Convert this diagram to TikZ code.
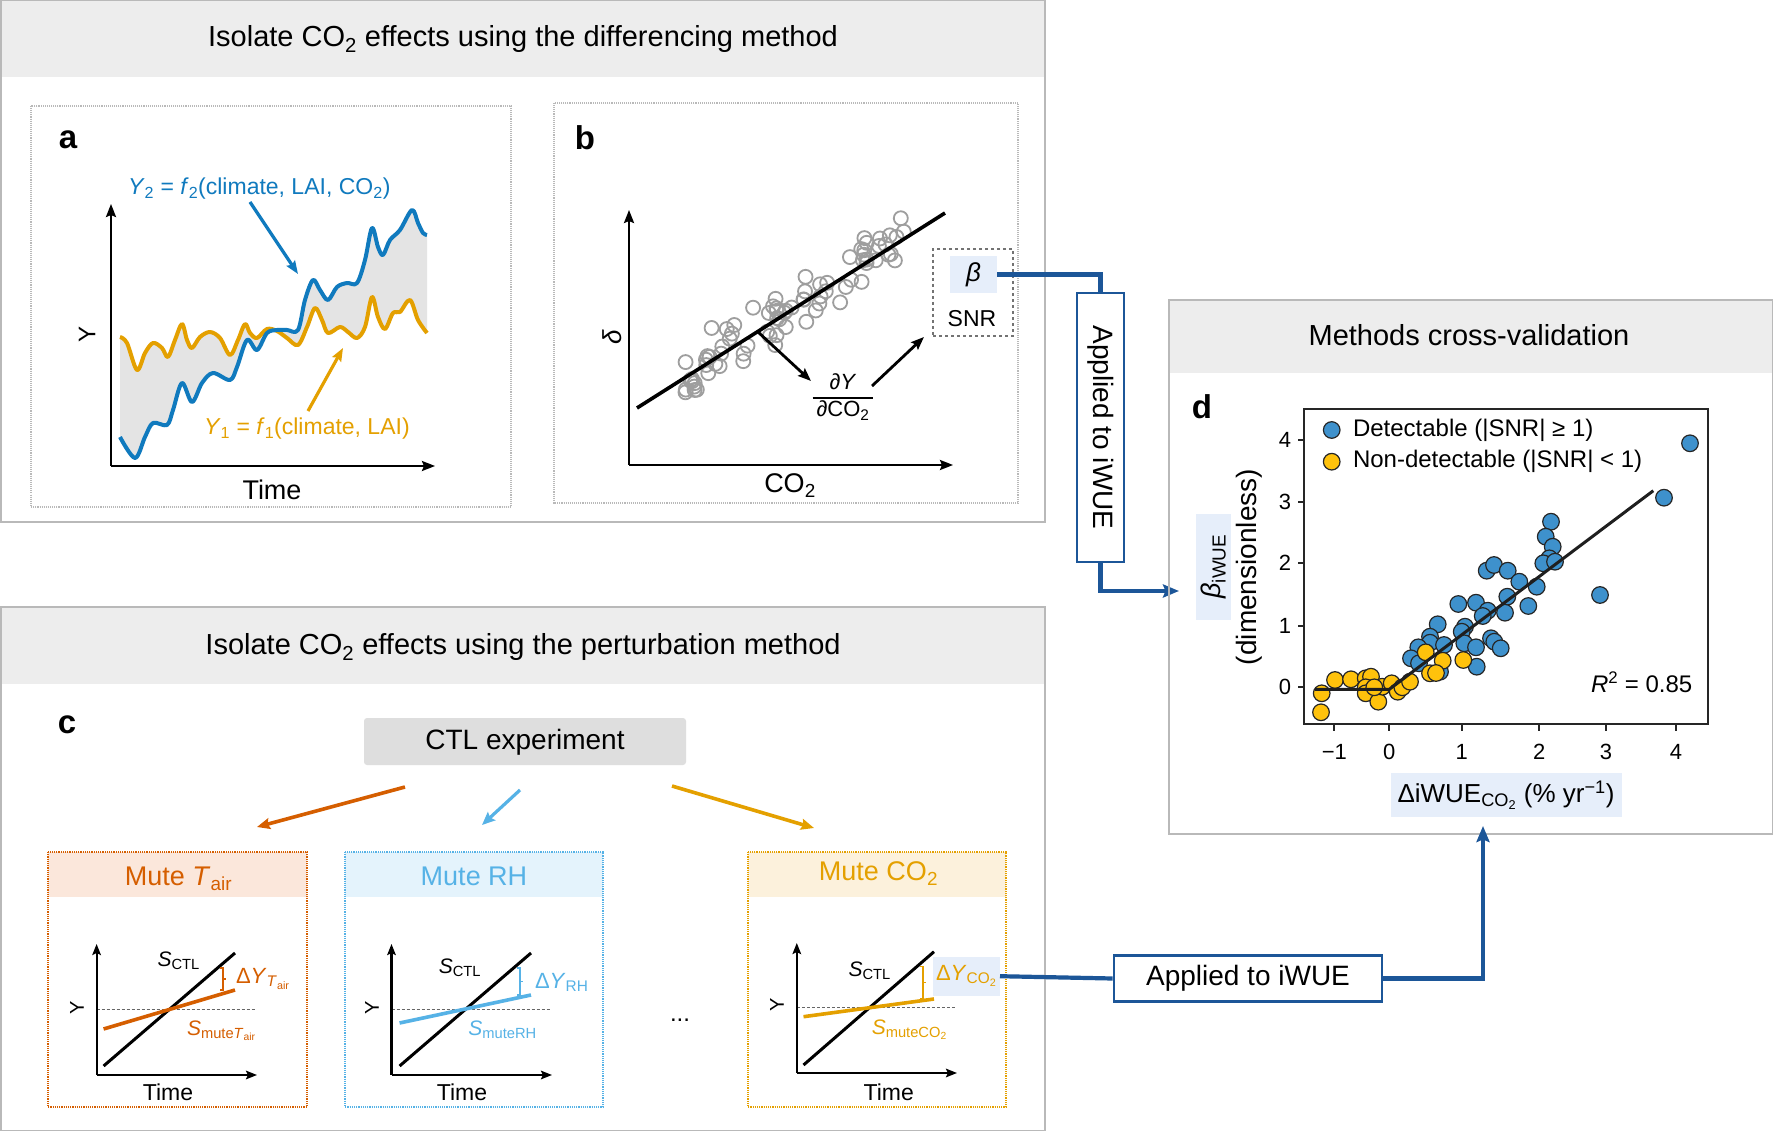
\documentclass[tikz,border=0pt]{standalone}
\usepackage{fontspec}
\setmainfont{Liberation Sans}
\usetikzlibrary{arrows.meta,calc}
\newcommand\fsz[1]{\fontsize{#1}{#1}\selectfont}
\definecolor{cblue}{RGB}{16,122,190}
\definecolor{corange}{RGB}{228,160,0}
\definecolor{ctair}{RGB}{213,94,0}
\definecolor{crh}{RGB}{86,178,230}
\definecolor{cco2}{RGB}{228,160,0}
\definecolor{cdark}{RGB}{28,86,152}
\definecolor{hdr}{RGB}{237,237,237}
\definecolor{framec}{RGB}{185,185,185}
\definecolor{hl}{RGB}{230,238,250}
\definecolor{ptblue}{RGB}{62,145,204}
\definecolor{ptyel}{RGB}{255,194,12}
\definecolor{shadec}{RGB}{228,228,228}
\definecolor{hdrtair}{RGB}{251,231,219}
\definecolor{hdrrh}{RGB}{228,243,252}
\definecolor{hdrco2}{RGB}{252,241,220}
\begin{document}
\begin{tikzpicture}[x=1pt,y=-1pt,
  txt/.style={inner sep=0pt,outer sep=0pt},
  plabel/.style={txt,font=\fsz{33}\bfseries},
  axisline/.style={line width=2.4pt,-{Stealth[length=13pt,width=10pt,inset=2pt]}},
  maxis/.style={line width=2.2pt,-{Stealth[length=11pt,width=8.5pt,inset=2pt]}},
  dotbox/.style={draw=framec,line width=1.1pt,densely dotted},
  conn/.style={draw=cdark,line width=4.2pt},
  conntip/.style={conn,-{Stealth[length=16pt,width=13pt,inset=2.5pt]}},
  applybox/.style={draw=cdark,line width=2.8pt,fill=white,inner sep=0pt,font=\fsz{28}},
  bcirc/.style={draw=black!38,line width=1.8pt},
  ptb/.style={fill=ptblue,draw=black!85,line width=1.2pt},
  pty/.style={fill=ptyel,draw=black!85,line width=1.2pt},
  mdash/.style={draw=black!60,line width=1pt,dash pattern=on 3pt off 2pt},
  ctlarrow/.style={line width=3.6pt,-{Stealth[length=13pt,width=11pt,inset=2pt]}}
]
\useasboundingbox (0,0) rectangle (1773,1131);
\fill[white] (0,0) rectangle (1773,1131);

%================ TOP PANEL =================
\fill[hdr] (0,0) rectangle (1045,77);
\draw[framec,line width=1.5pt] (0.75,0.75) rectangle (1045,522);
\node[txt,font=\fsz{29},anchor=base] (ttop) at (523,46.7) {Isolate CO\textsubscript{2} effects using the differencing method};

% ---- panel a
\draw[dotbox] (31,106) rectangle (511,507);
\node[plabel] (la) at (68,140) {a};
\fill[shadec] plot[smooth,tension=0.55] coordinates {(120,437) (135,458) (145,437) (153,423) (167,425) (173,410) (182,383) (192,402) (202,383) (213,373) (230,380) (237,367) (247,340) (257,350) (267,333) (277,330) (287,330) (298,330) (305,300) (313,280) (320,290) (328,300) (337,287) (347,283) (357,283) (365,260) (372,228) (378,247) (383,255) (390,240) (400,230) (412,210) (418,223) (423,233) (427,235)}
 -- plot[smooth,tension=0.55] coordinates {(427,333) (418,320) (410,300) (400,312) (393,313) (385,329) (378,317) (372,297) (365,327) (357,338) (348,332) (340,327) (328,333) (322,320) (315,308) (307,327) (298,345) (287,338) (277,331) (267,329) (257,338) (250,333) (245,324) (238,340) (230,355) (220,338) (210,332) (200,337) (192,348) (187,340) (182,324) (175,340) (168,357) (162,348) (153,343) (145,353) (137,370) (127,343) (120,337)} -- cycle;
\draw[corange,line width=4pt,line join=round] plot[smooth,tension=0.55] coordinates {(120,337) (127,343) (137,370) (145,353) (153,343) (162,348) (168,357) (175,340) (182,324) (187,340) (192,348) (200,337) (210,332) (220,338) (230,355) (238,340) (245,324) (250,333) (257,338) (267,329) (277,331) (287,338) (298,345) (307,327) (315,308) (322,320) (328,333) (340,327) (348,332) (357,338) (365,327) (372,297) (378,317) (385,329) (393,313) (400,312) (410,300) (418,320) (427,333)};
\draw[cblue,line width=4pt,line join=round] plot[smooth,tension=0.55] coordinates {(120,437) (135,458) (145,437) (153,423) (167,425) (173,410) (182,383) (192,402) (202,383) (213,373) (230,380) (237,367) (247,340) (257,350) (267,333) (277,330) (287,330) (298,330) (305,300) (313,280) (320,290) (328,300) (337,287) (347,283) (357,283) (365,260) (372,228) (378,247) (383,255) (390,240) (400,230) (412,210) (418,223) (423,233) (427,235)};
\coordinate (ao) at (111,466);
\coordinate (ay) at (111,204);
\coordinate (ax) at (435,466);
\draw[axisline] (ao) -- (ay);
\draw[axisline] (ao) -- (ax);
\node[txt,font=\fsz{24},rotate=90] (aY) at (87,334) {Y};
\node[txt,font=\fsz{27}] (aT) at (272,490) {Time};
\node[txt,font=\fsz{23},text=cblue,anchor=base west] (y2lab) at (128,195) {\textit{Y}\textsubscript{2} = \textit{f}\textsubscript{2}(climate, LAI, CO\textsubscript{2})};
\node[txt,font=\fsz{23},text=corange,anchor=base west] (y1lab) at (204,435) {\textit{Y}\textsubscript{1} = \textit{f}\textsubscript{1}(climate, LAI)};
\coordinate (y2s) at (250,202);
\coordinate (y2e) at (298,274);
\coordinate (y1s) at (308,411);
\coordinate (y1e) at (343,348);
\draw[cblue,line width=3.2pt,-{Stealth[length=13pt,width=10pt,inset=2pt]}] (y2s) -- (y2e);
\draw[corange,line width=3.2pt,-{Stealth[length=13pt,width=10pt,inset=2pt]}] (y1s) -- (y1e);

% ---- panel b
\draw[dotbox] (554,103) rectangle (1018,503);
\node[plabel] (lb) at (585,138) {b};
\coordinate (bo) at (629,465);
\coordinate (by) at (629,210);
\coordinate (bx) at (953,465);
\draw[axisline] (bo) -- (by);
\draw[axisline] (bo) -- (bx);
\node[txt,font=\fsz{26}\itshape,rotate=90] (bdelta) at (612,337) {δ};
\node[txt,font=\fsz{27},anchor=base] (bco2) at (790,493) {CO\textsubscript{2}};
\pgfmathsetseed{23}
\foreach \i in {1,...,78}{
  \pgfmathsetmacro\xx{683+222*rnd}
  \pgfmathsetmacro\yy{408-0.633*(\xx-637)+30*(rnd+rnd+rnd-1.5)}
  \draw[bcirc] (\xx,\yy) circle[radius=7];
}
\coordinate (rl1) at (637,408);
\coordinate (rl2) at (945,213);
\draw[line width=3.6pt] (rl1) -- (rl2);
\node[txt,font=\fsz{22}] (frac) at (843,398) {\setlength{\arrayrulewidth}{2pt}\setlength{\tabcolsep}{4pt}\renewcommand{\arraystretch}{1.15}\begin{tabular}{c}∂\textit{Y}\\\hline ∂CO\textsubscript{2}\end{tabular}};
\coordinate (bar1) at (758,332);
\coordinate (bar2) at (811,381);
\coordinate (bar3) at (872,386);
\coordinate (bar4) at (924,337);
\draw[line width=2.8pt,-{Stealth[length=13pt,width=10pt,inset=2pt]}] (bar1) -- (bar2);
\draw[line width=2.8pt,-{Stealth[length=13pt,width=10pt,inset=2pt]}] (bar3) -- (bar4);
\node[draw=black!55,line width=1.1pt,dashed,minimum width=80pt,minimum height=87pt,inner sep=0pt] (snrbox) at (973,292.5) {};
\node[txt,fill=hl,minimum width=47pt,minimum height=37pt,font=\fsz{26}\itshape] (beta) at (973.5,274.5) {β};
\node[txt,font=\fsz{23}] (snr) at (972,319) {SNR};

% connector b -> d
\node[applybox,rotate=-90,minimum width=269pt,minimum height=47pt] (applyv) at (1100.5,427.5) {Applied to iWUE};
\coordinate (dtipA) at (1179,591);
\draw[conn] (beta.east) -| (applyv.west);
\draw[conntip] (applyv.east) |- (dtipA);

%================ PANEL D =================
\fill[hdr] (1169,300) rectangle (1772,373.5);
\draw[framec,line width=1.5pt] (1169,300) rectangle (1772.25,834);
\node[txt,font=\fsz{29},anchor=base] (tdtitle) at (1469,345.4) {Methods cross-validation};
\node[plabel] (ld) at (1202,407) {d};
\draw[black!85,line width=1.8pt] (1304.3,409.3) rectangle (1708.3,724.3);
\foreach \yv/\lab in {440/4,501.7/3,563.3/2,625.7/1,687.3/0}{
  \draw[black!85,line width=1.8pt] (1304.3,\yv) -- (1297.5,\yv);
  \node[txt,font=\fsz{22},anchor=east] at (1291,\yv) {\lab};
}
\foreach \xv/\lab in {1334.3/−1,1389.3/0,1461.7/1,1539.3/2,1606/3,1676/4}{
  \draw[black!85,line width=1.8pt] (\xv,724.3) -- (\xv,731);
  \node[txt,font=\fsz{22}] at (\xv,752) {\lab};
}
\foreach \x/\y in {1690/443.3,1664/497.7,1551/521.7,1545.7/536.7,1552.7/546.7,1549.3/558.3,1543.3/563.3,1555/561.7,1486.7/570.7,1494/565,1507.7/570.7,1519.3/581.7,1536.7/586.7,1600/595,1507.3/596.7,1458.3/604,1476/602.7,1528.3/606,1487.7/610.7,1482.7/616,1505/612.7,1437.7/624.3,1465/626.7,1461.7/631.7,1430/636.7,1430/642.7,1444/645,1418.3/647.3,1464.3/643.3,1491/638.3,1494.3/641.7,1476/647.3,1500.7/648.3,1411/658.3,1419/663.3,1440/671.7,1476.7/666.7}{
  \draw[ptb] (\x,\y) circle[radius=8.3];
}
\foreach \x/\y in {1425.7/652.3,1442.7/660.7,1463.3/660,1430/673.3,1335/680,1351/679.3,1365.7/678.3,1371/676.7,1321.7/693.3,1321/712.3,1365.7/687.3,1365.7/693.3,1378.3/701.7,1382.3/686.7,1391.7/683.3,1397.7/691.7,1402.3/687.3,1410/681.7,1374.3/687.3,1436/673}{
  \draw[pty] (\x,\y) circle[radius=8.3];
}
\draw[black!88,line width=3pt,line join=round] (1315,689.3) -- (1389.3,689.3) -- (1653.3,490.7);
\node[ptb,circle,minimum size=16.6pt,inner sep=0pt] (legb) at (1331.7,430) {};
\node[pty,circle,minimum size=16.6pt,inner sep=0pt] (legy) at (1331.7,461.7) {};
\node[txt,font=\fsz{24},anchor=west] (legbt) at (1353,430) {Detectable (|SNR| ≥ 1)};
\node[txt,font=\fsz{24},anchor=west] (legyt) at (1353,461.7) {Non-detectable (|SNR| < 1)};
\node[txt,font=\fsz{24}] (r2) at (1641.7,682) {\textit{R}\textsuperscript{2} = 0.85};
\node[txt,fill=hl,rotate=90,minimum width=106pt,minimum height=35pt,font=\fsz{27}] (betaiwue) at (1213.5,566.5) {\textit{β}\textsubscript{iWUE}};
\node[txt,font=\fsz{28},rotate=90] (dimless) at (1249,567) {(dimensionless)};
\node[txt,fill=hl,minimum width=231pt,minimum height=44pt,font=\fsz{26}] (diwue) at (1506,795) {ΔiWUE\textsubscript{CO\textsubscript{2}} (\% yr\textsuperscript{−1})};

%================ BOTTOM PANEL =================
\fill[hdr] (0,607) rectangle (1045,683.8);
\draw[framec,line width=1.5pt] (0.75,607) rectangle (1045,1130.25);
\node[txt,font=\fsz{29},anchor=base] (tbot) at (523,654.8) {Isolate CO\textsubscript{2} effects using the perturbation method};
\node[plabel] (lc) at (67,725) {c};
\node[txt,fill=black!13,rounded corners=3pt,minimum width=322pt,minimum height=47pt] (ctl) at (525,741.5) {};
\node[txt,font=\fsz{28},anchor=base] (ctltext) at (525,749.8) {CTL experiment};
\coordinate (c1s) at (405,787);
\coordinate (c1e) at (257,827);
\coordinate (c2s) at (520,790);
\coordinate (c2e) at (482,825);
\coordinate (c3s) at (672,786);
\coordinate (c3e) at (814,828);
\draw[ctlarrow,ctair] (c1s) -- (c1e);
\draw[ctlarrow,crh,line width=3.2pt] (c2s) -- (c2e);
\draw[ctlarrow,cco2] (c3s) -- (c3e);

% ---- Mute Tair
\fill[hdrtair] (48,852) rectangle (307,897);
\draw[ctair,line width=1.2pt,densely dotted] (48,852) rectangle (307,1107);
\node[txt,font=\fsz{27},text=ctair,anchor=base] (mtair) at (178.5,885) {Mute \textit{T}\textsubscript{air}};
\coordinate (t0) at (96.6,1075);
\coordinate (ty) at (96.6,944);
\coordinate (tx) at (257,1075);
\draw[mdash] (96.6,1009.3) -- (256,1009.3);
\draw[maxis] (t0) -- (ty);
\draw[maxis] (t0) -- (tx);
\draw[line width=3pt] (103.6,1066) -- (235,953);
\draw[ctair,line width=3.6pt] (103.6,1029) -- (235,990);
\draw[ctair,line width=1.2pt] (220,968) -- (223,968) -- (223,990) -- (220,990) (223,979) -- (226,979);
\node[txt,font=\fsz{20},rotate=90] (tY) at (77,1008) {Y};
\node[txt,font=\fsz{23}] (tT) at (168,1092) {Time};
\node[txt,font=\fsz{21},anchor=base west] (tsctl) at (157.6,966.7) {\textit{S}\textsubscript{CTL}};
\node[txt,font=\fsz{22},text=ctair,anchor=base west] (tdy) at (236,983) {Δ\textit{Y}\textsubscript{\textit{T}\textsubscript{air}}};
\node[txt,font=\fsz{21},text=ctair,anchor=base west] (tsm) at (187,1035) {\textit{S}\textsubscript{mute\textit{T}\textsubscript{air}}};

% ---- Mute RH
\fill[hdrrh] (345,852) rectangle (603,897);
\draw[crh,line width=1.2pt,densely dotted] (345,852) rectangle (603,1107);
\node[txt,font=\fsz{27},text=crh,anchor=base] (mrh) at (474,885) {Mute RH};
\coordinate (r0) at (391.5,1075);
\coordinate (ry) at (391.5,944);
\coordinate (rx) at (552,1075);
\draw[mdash] (391.5,1009.3) -- (551,1009.3);
\draw[maxis] (r0) -- (ry);
\draw[maxis] (r0) -- (rx);
\draw[line width=3pt] (399.6,1066) -- (531,953);
\draw[crh,line width=3.6pt] (399.6,1023) -- (531,995);
\draw[crh,line width=1.2pt] (517,968) -- (520,968) -- (520,995) -- (517,995) (520,981.5) -- (523,981.5);
\node[txt,font=\fsz{20},rotate=90] (rY) at (372,1008) {Y};
\node[txt,font=\fsz{23}] (rT) at (462,1092) {Time};
\node[txt,font=\fsz{21},anchor=base west] (rsctl) at (438.8,973.3) {\textit{S}\textsubscript{CTL}};
\node[txt,font=\fsz{22},text=crh,anchor=base west] (rdy) at (535,988.3) {Δ\textit{Y}\textsubscript{RH}};
\node[txt,font=\fsz{21},text=crh,anchor=base west] (rsm) at (468.4,1035) {\textit{S}\textsubscript{muteRH}};

\node[txt,font=\fsz{24}] (dots) at (680,1020) {...};

% ---- Mute CO2
\fill[hdrco2] (748,852) rectangle (1006,897);
\draw[cco2,line width=1.2pt,densely dotted] (748,852) rectangle (1006,1107);
\node[txt,font=\fsz{27},text=cco2,anchor=base] (mco2) at (878.5,880.7) {Mute CO\textsubscript{2}};
\coordinate (k0) at (796.8,1073);
\coordinate (ky) at (796.8,943);
\coordinate (kx) at (957,1073);
\draw[mdash] (796.8,1007.7) -- (955.7,1007.7);
\draw[maxis] (k0) -- (ky);
\draw[maxis] (k0) -- (kx);
\draw[line width=3pt] (803.5,1065) -- (934,951.7);
\draw[cco2,line width=3.6pt] (803.5,1016.7) -- (934,999);
\draw[cco2,line width=1.2pt] (920,966.7) -- (923,966.7) -- (923,998.3) -- (920,998.3) (923,982.5) -- (926,982.5);
\node[txt,font=\fsz{20},rotate=90] (kY) at (777,1005) {Y};
\node[txt,font=\fsz{23}] (kT) at (888.7,1092) {Time};
\node[txt,font=\fsz{21},anchor=base west] (ksctl) at (848.6,976.7) {\textit{S}\textsubscript{CTL}};
\node[txt,fill=hl,minimum width=67pt,minimum height=39pt] (kdybox) at (966.5,976.2) {};
\node[txt,font=\fsz{22},text=cco2,anchor=base west] (kdy) at (936,980) {Δ\textit{Y}\textsubscript{CO\textsubscript{2}}};
\node[txt,font=\fsz{21},text=cco2,anchor=base west] (ksm) at (871.8,1034.3) {\textit{S}\textsubscript{muteCO\textsubscript{2}}};

% connector c -> d
\node[applybox,minimum width=268pt,minimum height=46pt] (applyh) at (1248,978.5) {};
\node[txt,font=\fsz{28},anchor=base] (applyhtext) at (1248,985.7) {Applied to iWUE};
\coordinate (dtipB) at (1483,826);
\draw[conn] (kdybox.east) -- (applyh.west);
\draw[conntip] (applyh.east) -| (dtipB);
\end{tikzpicture}
\end{document}
